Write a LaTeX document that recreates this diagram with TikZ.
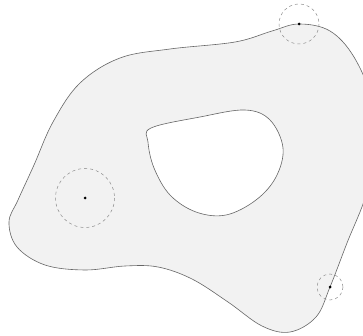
\documentclass[tikz,border=0pt]{standalone}
\begin{document}
\begin{tikzpicture}[x=1pt,y=-1pt,
  shape line/.style={draw=black!60,line width=0.6pt,fill=black!5,even odd rule},
  ring/.style={draw=black!45,dashed,line width=0.5pt},
  dot/.style={fill=black,circle,inner sep=0pt,minimum size=3pt}]
\useasboundingbox (0,0) rectangle (363,336);
\clip (0,0) rectangle (363,336);
\path[shape line]
  plot[smooth cycle,tension=0.6] coordinates {(299,24) (330,31) (354,57) (372,100) (376,145) (366,195) (347,243) (330,287) (316,317) (290,332) (262,326) (228,302) (192,279) (158,267) (125,266) (85,270) (45,265) (17,247) (9,222) (18,200) (34,165) (53,122) (80,83) (120,58) (170,49) (235,42) (272,31)}
  plot[smooth cycle,tension=0.6] coordinates {(151,128) (200,117) (245,110) (270,120) (283,148) (276,177) (256,200) (226,215) (196,212) (170,195) (154,168) (148,142)};
\node[dot] (p1) at (299,24) {};
\node[dot] (p2) at (85,198) {};
\node[dot] (p3) at (330,287) {};
\draw[ring] (p1) circle (20);
\draw[ring] (p2) circle (29.5);
\draw[ring] (p3) circle (13);
\end{tikzpicture}
\end{document}
